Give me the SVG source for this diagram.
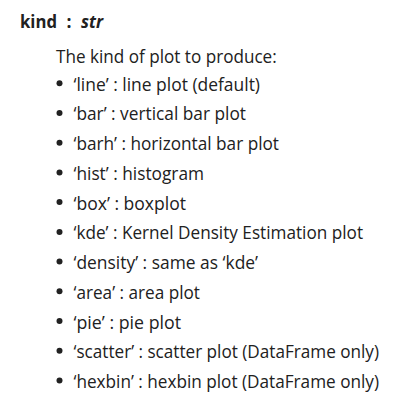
<svg xmlns="http://www.w3.org/2000/svg" width="400" height="403" viewBox="0 0 400 403">
<style>
text{font-family:"Open Sans","Noto Sans","Liberation Sans",sans-serif;fill:#212121;font-size:17.5px}
.b{font-weight:bold}
.bi{font-weight:bold;font-style:italic}
.dot{fill:#212121}
</style>
<rect width="400" height="403" fill="#ffffff"/>
<g id="title">
<text x="20" y="28" class="b" textLength="37" lengthAdjust="spacingAndGlyphs">kind</text>
<text x="66.5" y="28" class="b">:</text>
<text x="81" y="28" class="bi" textLength="22" lengthAdjust="spacingAndGlyphs">str</text>
</g>
<g id="intro">
<text x="56" y="62.5" textLength="220.7" lengthAdjust="spacingAndGlyphs">The kind of plot to produce:</text>
</g>
<g id="list">
<g id="i1"><circle class="dot" cx="59.5" cy="83.2" r="3"/><text x="73.5" y="90.7" textLength="186.5" lengthAdjust="spacingAndGlyphs">‘line’ : line plot (default)</text></g>
<g id="i2"><circle class="dot" cx="59.5" cy="112.9" r="3"/><text x="73.5" y="120.4" textLength="172.5" lengthAdjust="spacingAndGlyphs">‘bar’ : vertical bar plot</text></g>
<g id="i3"><circle class="dot" cx="59.5" cy="142.7" r="3"/><text x="73.5" y="150.2" textLength="205.5" lengthAdjust="spacingAndGlyphs">‘barh’ : horizontal bar plot</text></g>
<g id="i4"><circle class="dot" cx="59.5" cy="172.4" r="3"/><text x="73.5" y="179.9" textLength="130.5" lengthAdjust="spacingAndGlyphs">‘hist’ : histogram</text></g>
<g id="i5"><circle class="dot" cx="59.5" cy="202.1" r="3"/><text x="73.5" y="209.6" textLength="112.5" lengthAdjust="spacingAndGlyphs">‘box’ : boxplot</text></g>
<g id="i6"><circle class="dot" cx="59.5" cy="231.9" r="3"/><text x="73.5" y="239.4" textLength="289.5" lengthAdjust="spacingAndGlyphs">‘kde’ : Kernel Density Estimation plot</text></g>
<g id="i7"><circle class="dot" cx="59.5" cy="261.6" r="3"/><text x="73.5" y="269.1" textLength="184.5" lengthAdjust="spacingAndGlyphs">‘density’ : same as ‘kde’</text></g>
<g id="i8"><circle class="dot" cx="59.5" cy="291.3" r="3"/><text x="73.5" y="298.8" textLength="126.5" lengthAdjust="spacingAndGlyphs">‘area’ : area plot</text></g>
<g id="i9"><circle class="dot" cx="59.5" cy="321" r="3"/><text x="73.5" y="328.5" textLength="107.5" lengthAdjust="spacingAndGlyphs">‘pie’ : pie plot</text></g>
<g id="i10"><circle class="dot" cx="59.5" cy="350.8" r="3"/><text x="73.5" y="358.3" textLength="305.5" lengthAdjust="spacingAndGlyphs">‘scatter’ : scatter plot (DataFrame only)</text></g>
<g id="i11"><circle class="dot" cx="59.5" cy="380.5" r="3"/><text x="73.5" y="388" textLength="305.5" lengthAdjust="spacingAndGlyphs">‘hexbin’ : hexbin plot (DataFrame only)</text></g>
</g>
</svg>
